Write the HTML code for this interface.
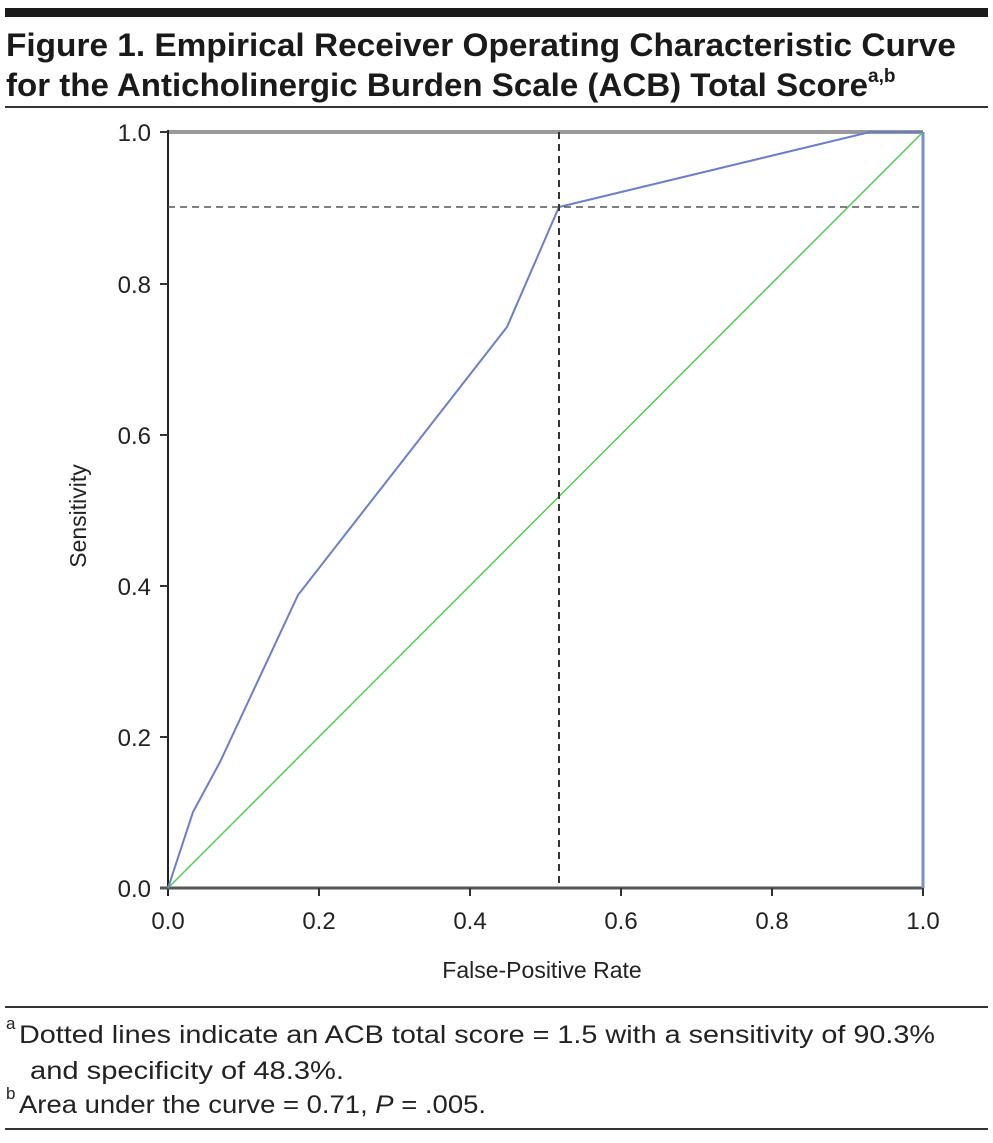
<!DOCTYPE html>
<html><head><style>
body{margin:0;background:#fff;width:993px;height:1138px;overflow:hidden;font-family:"Liberation Sans",sans-serif;}
</style></head><body>
<svg width="993" height="1138" xmlns="http://www.w3.org/2000/svg" font-family="Liberation Sans, sans-serif">
<rect x="5" y="8" width="983" height="9" fill="#1a1a1a"/>
<text x="6" y="56" font-size="32" font-weight="bold" fill="#1a1a1a" textLength="950" lengthAdjust="spacingAndGlyphs">Figure 1. Empirical Receiver Operating Characteristic Curve</text>
<text x="6" y="96" font-size="32" font-weight="bold" fill="#1a1a1a" textLength="862" lengthAdjust="spacingAndGlyphs">for the Anticholinergic Burden Scale (ACB) Total Score</text>
<text x="868" y="82" font-size="19" font-weight="bold" fill="#1a1a1a">a,b</text>
<rect x="5" y="106" width="983" height="2" fill="#333"/>
<line x1="168" y1="132" x2="923" y2="132" stroke="#999" stroke-width="4"/>
<line x1="168" y1="130" x2="168" y2="896" stroke="#222" stroke-width="2"/>
<line x1="160" y1="888" x2="923" y2="888" stroke="#555" stroke-width="3"/>
<line x1="923" y1="132" x2="923" y2="888" stroke="#7a8fd0" stroke-width="3"/>
<g stroke="#333" stroke-width="2">
<line x1="160" y1="132" x2="168" y2="132"/><line x1="160" y1="284" x2="168" y2="284"/><line x1="160" y1="435" x2="168" y2="435"/><line x1="160" y1="586" x2="168" y2="586"/><line x1="160" y1="737" x2="168" y2="737"/>
<line x1="319" y1="888" x2="319" y2="896"/><line x1="470" y1="888" x2="470" y2="896"/><line x1="621" y1="888" x2="621" y2="896"/><line x1="772" y1="888" x2="772" y2="896"/><line x1="923" y1="888" x2="923" y2="896"/>
</g>
<g font-size="24" fill="#222" text-anchor="end">
<text x="151" y="141">1.0</text><text x="151" y="293">0.8</text><text x="151" y="444">0.6</text><text x="151" y="595">0.4</text><text x="151" y="746">0.2</text><text x="151" y="897">0.0</text>
</g>
<g font-size="24" fill="#222" text-anchor="middle">
<text x="168" y="929">0.0</text><text x="319" y="929">0.2</text><text x="470" y="929">0.4</text><text x="621" y="929">0.6</text><text x="772" y="929">0.8</text><text x="923" y="929">1.0</text>
</g>
<text x="542" y="978" font-size="23" fill="#222" text-anchor="middle">False-Positive Rate</text>
<text transform="translate(86,516) rotate(-90)" font-size="23" fill="#222" text-anchor="middle">Sensitivity</text>
<line x1="168" y1="888" x2="923" y2="132" stroke="#4fce4f" stroke-width="1.5"/>
<polyline points="168,888 193,812 220,762 298,595 507,327 559,207 870,132 923,132" fill="none" stroke="#6a7fcc" stroke-width="2"/>
<line x1="559" y1="132" x2="559" y2="888" stroke="#333" stroke-width="2" stroke-dasharray="7,5"/>
<line x1="168" y1="207" x2="923" y2="207" stroke="#555" stroke-width="1.5" stroke-dasharray="7,5"/>
<rect x="5" y="1006" width="983" height="2" fill="#333"/>
<text x="6" y="1029" font-size="17" fill="#222">a</text>
<text x="19" y="1043" font-size="25" fill="#222" textLength="916" lengthAdjust="spacingAndGlyphs">Dotted lines indicate an ACB total score = 1.5 with a sensitivity of 90.3%</text>
<text x="30" y="1079" font-size="25" fill="#222" textLength="314" lengthAdjust="spacingAndGlyphs">and specificity of 48.3%.</text>
<text x="6" y="1099" font-size="17" fill="#222">b</text>
<text x="19" y="1113" font-size="25" fill="#222" textLength="467" lengthAdjust="spacingAndGlyphs">Area under the curve = 0.71, <tspan font-style="italic">P</tspan> = .005.</text>
<rect x="5" y="1128" width="983" height="2" fill="#333"/>
</svg>
</body></html>
